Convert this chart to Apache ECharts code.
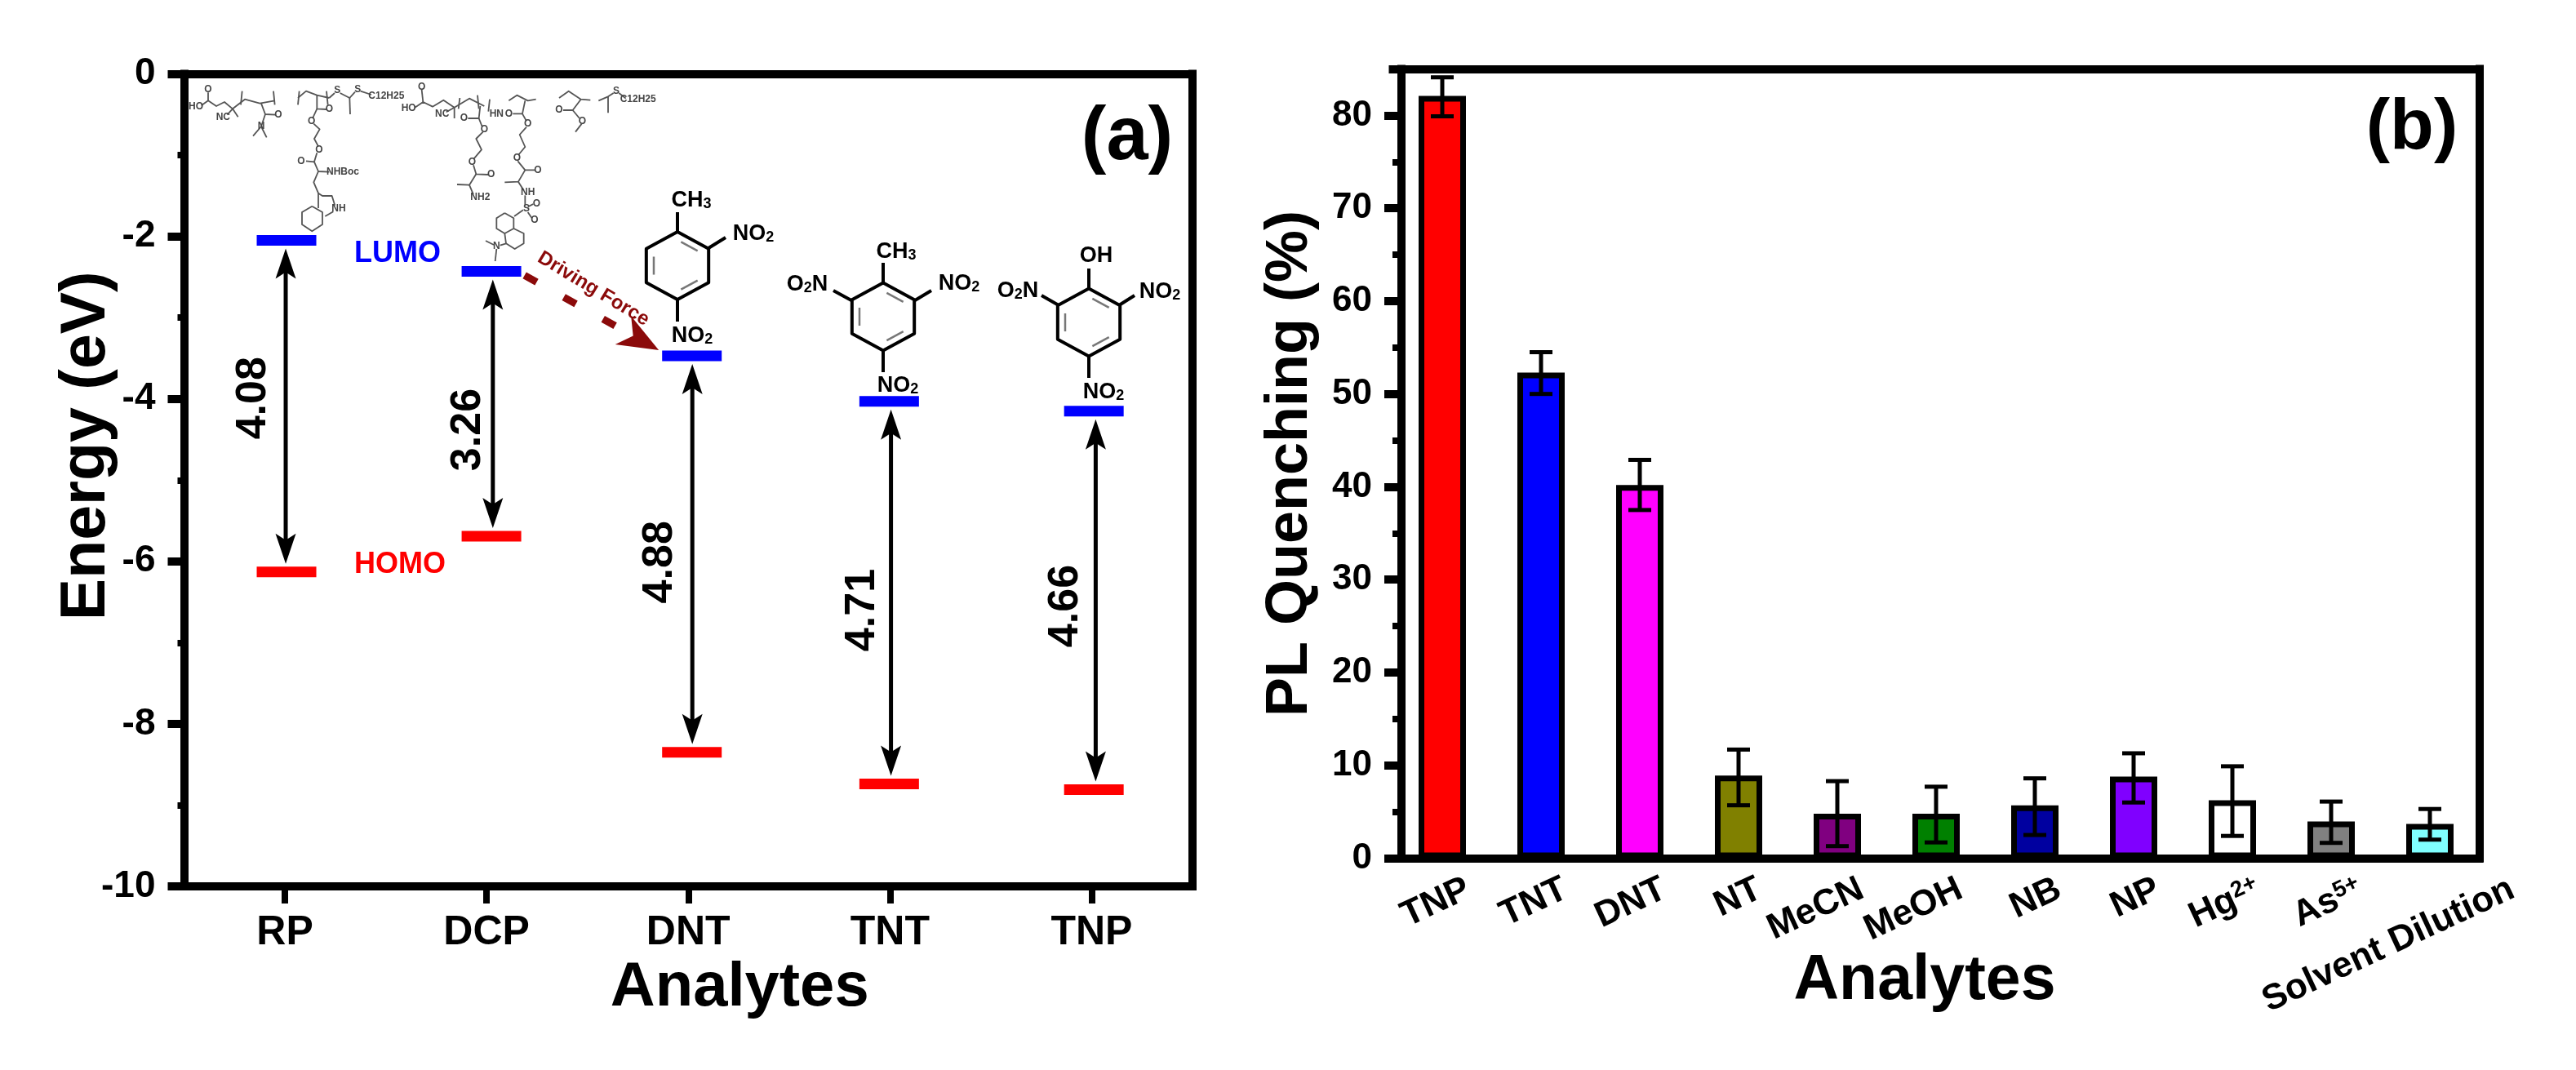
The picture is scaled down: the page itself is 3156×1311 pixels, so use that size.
<!DOCTYPE html>
<html>
<head>
<meta charset="utf-8">
<style>html,body{margin:0;padding:0;background:#fff}#c{width:3156px;height:1311px}</style>
<script src="https://cdn.jsdelivr.net/npm/echarts@6/dist/echarts.min.js"></script>
</head>
<body>
<div id="c"></div>
<script>
// ---------- panel (a) data ----------
const analytesA = ['RP', 'DCP', 'DNT', 'TNT', 'TNP'];
const lumo = [-2.05, -2.43, -3.47, -4.03, -4.15];
const homo = [-6.13, -5.69, -8.35, -8.74, -8.81];
const gaps = ['4.08', '3.26', '4.88', '4.71', '4.66'];
const levelX = [1.008, 2.024, 3.018, 3.996, 5.011];
const arrowX = [1.004, 2.031, 3.020, 4.005, 5.020];
const gapLabelX = [0.846, 1.907, 2.862, 3.862, 4.870];
const gapLabelY = [-3.99, -4.38, -6.01, -6.60, -6.55];
const energyTicks = { min: -10, max: 0, interval: 2 };

// ---------- panel (b) data ----------
const analytesB = ['TNP', 'TNT', 'DNT', 'NT', 'MeCN', 'MeOH', 'NB', 'NP', 'Hg2+', 'As5+', 'Solvent Dilution'];
const quenching = [82.1, 52.3, 40.2, 8.9, 4.8, 4.8, 5.7, 8.8, 6.25, 3.95, 3.7];
const errLow = [79.9, 50.0, 37.5, 5.7, 1.3, 1.7, 2.5, 6.0, 2.4, 1.65, 2.0];
const errHigh = [84.1, 54.5, 42.9, 11.7, 8.3, 7.7, 8.6, 11.3, 9.9, 6.1, 5.3];
const barColors = ['#ff0000', '#0000ff', '#ff00ff', '#808000', '#800080', '#008000', '#0000a0', '#8000ff', '#ffffff', '#808080', '#80ffff'];
const quenchTicks = [0, 10, 20, 30, 40, 50, 60, 70, 80];
const quenchMinor = [5, 15, 25, 35, 45, 55, 65, 75];

const FONT = '"Liberation Sans", Arial, sans-serif';
const W = 3156, H = 1311;

// ---------- panel (a) helper renderers ----------
function levelRender(color) {
  return function (params, api) {
    const c = api.coord([api.value(0), api.value(1)]);
    return { type: 'rect', shape: { x: c[0] - 36.5, y: c[1] - 6.5, width: 73, height: 13 }, style: { fill: color } };
  };
}
function arrowHead(x, y, dir) {
  return { type: 'polygon', shape: { points: [[x, y], [x - 12.5, y + dir * 37], [x, y + dir * 29], [x + 12.5, y + dir * 37]] }, style: { fill: '#000' } };
}
function gapArrowRender(params, api) {
  const a = api.coord([api.value(0), api.value(1)]);
  const b = api.coord([api.value(0), api.value(2)]);
  const top = a[1] + 10, bot = b[1] - 10;
  return {
    type: 'group',
    children: [
      { type: 'line', shape: { x1: a[0], y1: top + 20, x2: a[0], y2: bot - 20 }, style: { stroke: '#000', lineWidth: 5 } },
      arrowHead(a[0], top, 1),
      arrowHead(a[0], bot, -1)
    ]
  };
}
function gapLabelRender(params, api) {
  const c = api.coord([api.value(0), api.value(1)]);
  return {
    type: 'text', x: c[0], y: c[1], rotation: Math.PI / 2,
    style: { text: gaps[params.dataIndex], x: 0, y: 0, align: 'center', verticalAlign: 'middle', font: 'bold 52px ' + FONT, fill: '#000' }
  };
}
function drivingRender(params, api) {
  const a = api.coord([api.value(0), api.value(1)]);
  const b = api.coord([api.value(2), api.value(3)]);
  const sx = a[0] + 4, sy = a[1] + 5, ex = b[0] - 4, ey = b[1] - 7;
  const ang = Math.atan2(ey - sy, ex - sx);
  const rot = (x, y) => [ex + x * Math.cos(ang) - y * Math.sin(ang), ey + x * Math.sin(ang) + y * Math.cos(ang)];
  return {
    type: 'group',
    children: [
      { type: 'line', shape: { x1: sx, y1: sy, x2: ex - 30 * Math.cos(ang), y2: ey - 30 * Math.sin(ang) }, style: { stroke: '#8b0a0a', lineWidth: 9, lineDash: [17, 38] } },
      { type: 'polygon', shape: { points: [rot(0, 0), rot(-50, -20), rot(-36, 0), rot(-50, 20)] }, style: { fill: '#8b0a0a' } }
    ]
  };
}

// ---------- panel (b) helper renderers ----------
function errorRender(params, api) {
  const x = api.coord([api.value(0), 0])[0];
  const lo = api.coord([api.value(0), api.value(1)])[1];
  const hi = api.coord([api.value(0), api.value(2)])[1];
  const st = { stroke: '#000', lineWidth: 5 };
  return {
    type: 'group',
    children: [
      { type: 'line', shape: { x1: x, y1: lo, x2: x, y2: hi }, style: st },
      { type: 'line', shape: { x1: x - 14, y1: lo, x2: x + 14, y2: lo }, style: st },
      { type: 'line', shape: { x1: x - 14, y1: hi, x2: x + 14, y2: hi }, style: st }
    ]
  };
}
const labelShift = [32, 30, 30, 26, 30, 30, 30, 30, 32, 36, 101];
function xLabelRender(params, api) {
  const i = api.value(0);
  const c = api.coord([i, 0]);
  const name = analytesB[i];
  const m = name.match(/^([A-Za-z]+)(\d\+)$/);
  const text = m ? '{n|' + m[1] + '}{s|' + m[2] + '}' : '{n|' + name + '}';
  return {
    type: 'text', x: c[0] + labelShift[i], y: c[1] + 36, rotation: 25 * Math.PI / 180,
    style: {
      text, x: 0, y: 0, align: 'right', verticalAlign: 'middle',
      rich: {
        n: { font: 'bold 44px ' + FONT, fill: '#000', verticalAlign: 'bottom' },
        s: { font: 'bold 28px ' + FONT, fill: '#000', verticalAlign: 'top' }
      }
    }
  };
}

// ---------- decorations: molecule sketches ----------
const gfx = [];
function txt(text, x, y, size, fill, opts) {
  opts = opts || {};
  gfx.push({
    type: 'text', x, y, rotation: opts.rotation || 0, z: 5,
    style: Object.assign({ text, x: 0, y: 0, align: 'center', verticalAlign: 'middle', font: 'bold ' + size + 'px ' + FONT, fill }, opts.style || {})
  });
}
function poly(points, stroke, lw) {
  gfx.push({ type: 'polyline', z: 4, shape: { points }, style: { stroke, lineWidth: lw, fill: null, lineJoin: 'round' } });
}
function chem(text, x, y) {
  const rich = { a: { font: 'bold 27px ' + FONT, fill: '#000' }, b: { font: 'bold 18px ' + FONT, fill: '#000', verticalAlign: 'bottom', padding: [8, 0, 0, 0] } };
  gfx.push({ type: 'text', x, y, z: 5, style: { text, x: 0, y: 0, align: 'center', verticalAlign: 'middle', rich } });
}
function ring(cx, cy, r, inner) {
  const hw = r * 0.92, hh = r / 2;
  const v = [[cx, cy - r], [cx + hw, cy - hh], [cx + hw, cy + hh], [cx, cy + r], [cx - hw, cy + hh], [cx - hw, cy - hh], [cx, cy - r]];
  poly(v, '#000', 4);
  if (inner) {
    const k = 0.76;
    const p = i => [cx + (v[i][0] - cx) * k, cy + (v[i][1] - cy) * k];
    const seg = (i, j) => {
      const a = p(i), b = p(j);
      poly([[a[0] + (b[0] - a[0]) * .15, a[1] + (b[1] - a[1]) * .15], [a[0] + (b[0] - a[0]) * .85, a[1] + (b[1] - a[1]) * .85]], '#777', 2.5);
    };
    seg(0, 1); seg(2, 3); seg(4, 5);
  }
}
// DNT
ring(830, 325.5, 41.5, true);
poly([[830, 284], [830, 260]], '#000', 4);
poly([[868, 304], [889, 291]], '#000', 4);
poly([[830, 367], [830, 394]], '#000', 4);
chem('{a|CH}{b|3}', 847, 246);
chem('{a|NO}{b|2}', 923, 287);
chem('{a|NO}{b|2}', 848, 412);
// TNT
ring(1082, 388, 41.5, true);
poly([[1082, 347], [1082, 322]], '#000', 4);
poly([[1121, 368], [1141, 356]], '#000', 4);
poly([[1043, 368], [1021, 356]], '#000', 4);
poly([[1082, 429], [1082, 456]], '#000', 4);
chem('{a|CH}{b|3}', 1098, 309);
chem('{a|NO}{b|2}', 1175, 348);
chem('{a|O}{b|2}{a|N}', 989, 349);
chem('{a|NO}{b|2}', 1100, 473);
// TNP
ring(1334, 395, 41.5, true);
poly([[1334, 354], [1334, 329]], '#000', 4);
poly([[1371, 374], [1390, 362]], '#000', 4);
poly([[1297, 374], [1276, 362]], '#000', 4);
poly([[1334, 436], [1334, 463]], '#000', 4);
txt('OH', 1343, 314, 27, '#000');
chem('{a|NO}{b|2}', 1421, 358);
chem('{a|O}{b|2}{a|N}', 1247, 357);
chem('{a|NO}{b|2}', 1352, 481);

// polymer sketches (crop units, 3x)
const GR = '#555';
function tr(ox, oy, pts) { return pts.map(p => [ox + p[0] / 3, oy + p[1] / 3]); }
const rpPaths = [
  [[65, 88], [90, 70], [120, 90], [150, 75], [180, 100], [225, 65], [280, 80], [335, 70]],
  [[180, 100], [200, 130]], [[180, 100], [160, 122]], [[90, 70], [90, 40]],
  [[285, 80], [300, 120], [338, 122]], [[300, 120], [285, 165], [255, 200]], [[285, 165], [305, 205]],
  [[215, 35], [210, 85]], [[330, 35], [335, 85]],
  [[420, 60], [450, 35], [490, 50], [535, 60]], [[425, 35], [420, 85]], [[525, 35], [530, 85]],
  [[535, 60], [555, 42]], [[575, 42], [610, 60], [630, 38]], [[650, 35], [690, 48]], [[610, 60], [612, 120]],
  [[490, 50], [490, 100], [525, 102]],
  [[490, 100], [474, 135]], [[478, 155], [500, 175], [480, 210], [495, 238]], [[490, 262], [480, 295], [450, 292]],
  [[480, 295], [495, 330], [535, 332]], [[495, 330], [478, 370], [495, 410], [510, 420], [545, 420], [556, 455]], [[550, 478], [520, 495]],
  [[495, 410], [495, 465]],
  [[472, 458], [510, 480], [510, 525], [472, 550], [435, 525], [435, 480], [472, 458]]
];
const dcpPaths = [
  [[85, 95], [115, 75], [150, 92], [190, 68], [230, 95], [285, 62], [340, 90]],
  [[115, 75], [110, 30]], [[230, 95], [230, 135]], [[230, 95], [200, 112]],
  [[250, 60], [245, 100]], [[315, 50], [320, 100]], [[360, 65], [355, 110]],
  [[325, 90], [320, 135], [280, 135]],
  [[320, 135], [332, 165]], [[335, 185], [310, 210], [330, 250], [302, 283]], [[300, 307], [310, 340], [355, 342]],
  [[310, 340], [285, 380], [240, 378]], [[285, 380], [300, 415]],
  [[430, 70], [460, 50], [500, 70], [530, 65]],
  [[490, 70], [480, 118], [445, 118]],
  [[480, 118], [495, 145]], [[495, 167], [470, 195], [490, 240], [465, 270]], [[463, 292], [490, 325], [525, 325]],
  [[490, 325], [465, 368], [415, 370]], [[465, 368], [485, 400]], [[490, 418], [490, 455]], [[500, 460], [520, 450]],
  [[500, 480], [515, 502]], [[483, 472], [450, 495]],
  [[415, 483], [448, 502], [448, 540], [415, 558], [385, 540], [385, 502], [415, 483]],
  [[448, 540], [485, 558], [485, 595], [452, 615], [420, 595], [415, 558]],
  [[420, 595], [398, 602]], [[375, 600], [345, 585]], [[385, 615], [380, 660]],
  [[615, 60], [650, 35], [695, 65], [730, 68]], [[760, 70], [795, 55], [815, 42]], [[835, 42], [860, 62]],
  [[795, 55], [795, 115]], [[695, 65], [665, 105], [630, 105]], [[665, 105], [690, 135]], [[698, 155], [675, 185]]
];
rpPaths.forEach(p => poly(tr(225, 100, p), GR, 1.8));
dcpPaths.forEach(p => poly(tr(480, 100, p), GR, 1.8));
const rpAtoms = [['HO', 45, 92], ['NC', 145, 132], ['O', 90, 30], ['O', 348, 122], ['N', 285, 165], ['O', 535, 102], ['O', 470, 145], ['O', 498, 250], ['O', 432, 292], ['NHBoc', 585, 332], ['NH', 570, 468], ['S', 565, 32], ['S', 640, 28], ['C12H25', 745, 52]];
const dcpAtoms = [['HO', 62, 97], ['NC', 185, 120], ['O', 110, 20], ['O', 265, 135], ['O', 340, 175], ['O', 295, 295], ['O', 365, 342], ['NH2', 325, 425], ['HN', 385, 118], ['O', 430, 118], ['O', 500, 155], ['O', 460, 280], ['O', 537, 325], ['NH', 500, 408], ['S', 495, 468], ['O', 532, 450], ['O', 525, 510], ['N', 385, 605], ['O', 615, 105], ['O', 700, 145], ['S', 825, 35], ['C12H25', 905, 65]];
const atomStyle = { style: { font: 'bold 12px ' + FONT } };
rpAtoms.forEach(a => txt(a[0], 225 + a[1] / 3, 100 + a[2] / 3, 12, '#444', atomStyle));
dcpAtoms.forEach(a => txt(a[0], 480 + a[1] / 3, 100 + a[2] / 3, 12, '#444', atomStyle));

// annotations
txt('LUMO', 487, 311, 36, '#0000ff');
txt('HOMO', 490, 692, 36, '#ff0000');
txt('Driving Force', 727, 354, 24, '#8b0a0a', { rotation: -31 * Math.PI / 180 });
txt('(a)', 1381, 170, 92, '#000');
txt('(b)', 2955, 158, 88, '#000');

// ---------- chart ----------
const lineStyle = { color: '#000', width: 10, cap: 'square' };
const gridA = { left: 225.5, right: W - 1461, top: 90.5, bottom: H - 1086 };
const gridB = { left: 1706.5, right: W - 3037.5, top: 84.5, bottom: H - 1051.5 };
const bareAxisLine = { show: true, onZero: false, lineStyle };

const option = {
  animation: false,
  backgroundColor: '#fff',
  textStyle: { fontFamily: FONT },
  graphic: gfx,
  grid: [gridA, gridB],
  xAxis: [
    {
      gridIndex: 0, type: 'category', data: analytesA, position: 'bottom', boundaryGap: true,
      axisLine: bareAxisLine,
      axisTick: { show: true, alignWithLabel: true, length: 21, lineStyle: { color: '#000', width: 8 } },
      axisLabel: { interval: 0, margin: 32, fontFamily: FONT, fontWeight: 'bold', fontSize: 50, color: '#000' },
      name: 'Analytes', nameLocation: 'middle', nameGap: 78,
      nameTextStyle: { fontFamily: FONT, fontWeight: 'bold', fontSize: 76, color: '#000', padding: [0, 0, 0, 126] },
      splitLine: { show: false }
    },
    { gridIndex: 0, type: 'category', data: analytesA, position: 'top', axisLine: bareAxisLine, axisTick: { show: false }, axisLabel: { show: false }, splitLine: { show: false } },
    { gridIndex: 0, type: 'value', min: 0.5, max: 5.5, show: false, splitLine: { show: false } },
    {
      gridIndex: 1, type: 'category', data: analytesB, position: 'bottom', boundaryGap: true,
      axisLine: bareAxisLine, axisTick: { show: false }, axisLabel: { show: false },
      name: 'Analytes', nameLocation: 'middle', nameGap: 113,
      nameTextStyle: { fontFamily: FONT, fontWeight: 'bold', fontSize: 77, color: '#000', padding: [0, 28, 0, 0] },
      splitLine: { show: false }
    },
    { gridIndex: 1, type: 'category', data: analytesB, position: 'top', axisLine: bareAxisLine, axisTick: { show: false }, axisLabel: { show: false }, splitLine: { show: false } }
  ],
  yAxis: [
    {
      gridIndex: 0, type: 'value', position: 'left', min: energyTicks.min, max: energyTicks.max, interval: energyTicks.interval,
      axisLine: bareAxisLine,
      axisTick: { show: true, length: 20, lineStyle: { color: '#000', width: 10 } },
      minorTick: { show: true, splitNumber: 2, length: 8, lineStyle: { color: '#000', width: 8 } },
      axisLabel: { margin: 35, fontFamily: FONT, fontWeight: 'bold', fontSize: 46, color: '#000' },
      splitLine: { show: false },
      name: 'Energy (eV)', nameLocation: 'middle', nameRotate: 90, nameGap: 80, nameMoveOverlap: false,
      nameTextStyle: { fontFamily: FONT, fontWeight: 'bold', fontSize: 77, color: '#000', padding: [0, 0, 0, 84] }
    },
    { gridIndex: 0, type: 'value', position: 'right', min: energyTicks.min, max: energyTicks.max, axisLine: bareAxisLine, axisTick: { show: false }, axisLabel: { show: false }, splitLine: { show: false } },
    {
      gridIndex: 1, type: 'value', position: 'left', offset: -10.5, min: 0, max: 85, interval: 10,
      axisLine: bareAxisLine,
      axisTick: { show: true, length: 21, customValues: quenchTicks, lineStyle: { color: '#000', width: 10 } },
      axisLabel: { margin: 36, customValues: quenchTicks, fontFamily: FONT, fontWeight: 'bold', fontSize: 44, color: '#000' },
      splitLine: { show: false },
      name: 'PL Quenching (%)', nameLocation: 'middle', nameRotate: 90, nameGap: 100, nameMoveOverlap: false,
      nameTextStyle: { fontFamily: FONT, fontWeight: 'bold', fontSize: 72, color: '#000' }
    },
    { gridIndex: 1, type: 'value', position: 'right', min: 0, max: 85, axisLine: bareAxisLine, axisTick: { show: false }, axisLabel: { show: false }, splitLine: { show: false } },
    {
      gridIndex: 1, type: 'value', position: 'left', offset: -10.5, min: 0, max: 85, interval: 10,
      axisLine: { show: false }, axisLabel: { show: false }, splitLine: { show: false },
      axisTick: { show: true, length: 11, customValues: quenchMinor, lineStyle: { color: '#000', width: 8 } }
    }
  ],
  series: [
    { type: 'custom', name: 'Gap arrows', xAxisIndex: 2, yAxisIndex: 0, z: 3, renderItem: gapArrowRender, data: arrowX.map((x, i) => [x, lumo[i], homo[i]]) },
    { type: 'custom', name: 'LUMO', xAxisIndex: 2, yAxisIndex: 0, z: 6, renderItem: levelRender('#0000ff'), data: levelX.map((x, i) => [x, lumo[i]]) },
    { type: 'custom', name: 'HOMO', xAxisIndex: 2, yAxisIndex: 0, z: 6, renderItem: levelRender('#ff0000'), data: levelX.map((x, i) => [x, homo[i]]) },
    { type: 'custom', name: 'Gap labels', xAxisIndex: 2, yAxisIndex: 0, z: 6, renderItem: gapLabelRender, data: gapLabelX.map((x, i) => [x, gapLabelY[i]]) },
    {
      type: 'custom', name: 'Driving Force', xAxisIndex: 2, yAxisIndex: 0, z: 6, renderItem: drivingRender,
      data: [[levelX[1] + 0.148, lumo[1], levelX[2] - 0.148, lumo[2]]]
    },
    {
      type: 'bar', name: 'PL Quenching', xAxisIndex: 3, yAxisIndex: 2, barWidth: 58, z: 3,
      data: quenching.map((v, i) => ({ value: v, itemStyle: { color: barColors[i], borderColor: '#000', borderWidth: 7 } }))
    },
    { type: 'custom', name: 'Error bars', xAxisIndex: 3, yAxisIndex: 2, z: 7, renderItem: errorRender, data: errLow.map((l, i) => [i, l, errHigh[i]]) },
    { type: 'custom', name: 'Analyte labels', xAxisIndex: 3, yAxisIndex: 2, z: 7, renderItem: xLabelRender, data: analytesB.map((n, i) => [i, 0]) }
  ]
};
const chart = echarts.init(document.getElementById('c'), null, { renderer: 'canvas', width: W, height: H });
chart.setOption(option);
</script>
</body>
</html>
